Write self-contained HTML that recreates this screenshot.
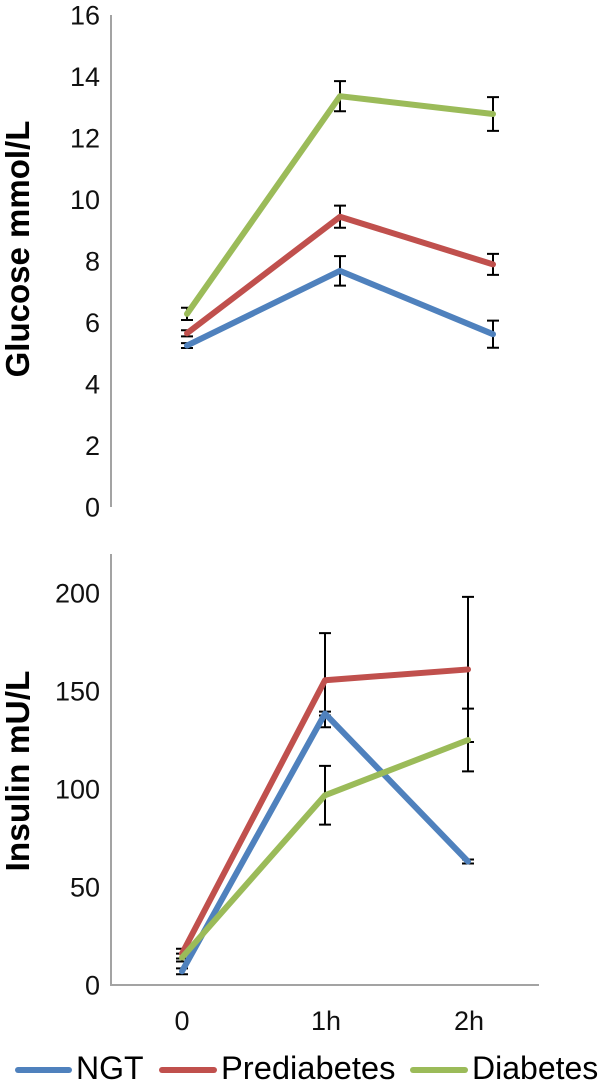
<!DOCTYPE html>
<html>
<head>
<meta charset="utf-8">
<style>
html,body{margin:0;padding:0;background:#fff;}
svg{display:block;font-family:"Liberation Sans",sans-serif;}
</style>
</head>
<body>
<svg id="chart" width="600" height="1087" viewBox="0 0 600 1087" xmlns="http://www.w3.org/2000/svg"></svg>
<script>
const categories = ['0', '1h', '2h'];
const seriesNames = ['NGT', 'Prediabetes', 'Diabetes'];
const glucoseTicks = [0, 2, 4, 6, 8, 10, 12, 14, 16];
const insulinTicks = [0, 50, 100, 150, 200];

const glucoseNGT = [5.25, 7.68, 5.62];
const glucosePrediabetes = [5.65, 9.44, 7.89];
const glucoseDiabetes = [6.28, 13.36, 12.78];
const glucoseNGTErr = [0.08, 0.48, 0.44];
const glucosePrediabetesErr = [0.10, 0.36, 0.34];
const glucoseDiabetesErr = [0.20, 0.49, 0.55];

const insulinNGT = [7, 138.5, 63];
const insulinPrediabetes = [16, 155.5, 161];
const insulinDiabetes = [14, 96.8, 125];
const insulinNGTErr = [1.5, 1, 1];
const insulinPrediabetesErr = [2.5, 24, 37];
const insulinDiabetesErr = [2, 15, 16];

const colors = ['#4f81bd', '#c0504d', '#9bbb59'];
const svg = document.getElementById('chart');
const NS = 'http://www.w3.org/2000/svg';

function make(tag, attrs, name) {
  const el = document.createElementNS(NS, tag);
  for (const k in attrs) el.setAttribute(k, attrs[k]);
  
  
  svg.appendChild(el);
  return el;
}
function label(str, attrs, name) {
  const el = make('text', attrs, name);
  el.textContent = str;
  return el;
}

const yGlucose = v => 507 - v * 30.75;
const xGlucose = i => 187 + i * 153;
const yInsulin = v => 985 - v * 1.96;
const xInsulin = i => 182 + i * 143;

function drawPanel(prefix, xFn, yFn, ticks, values, errs) {
  ticks.forEach(t => {
    label(String(t), {x: 100, y: yFn(t) + 9.5, 'font-size': 27, 'text-anchor': 'end', fill: '#111'}, prefix + '-tick-' + t);
  });
  values.forEach((vals, s) => {
    vals.forEach((v, i) => {
      const x = xFn(i), hi = yFn(v + errs[s][i]), lo = yFn(v - errs[s][i]);
      const d = `M${x} ${hi}V${lo}M${x - 6} ${hi}H${x + 6}M${x - 6} ${lo}H${x + 6}`;
      make('path', {d: d, stroke: '#000', 'stroke-width': 2, fill: 'none'}, prefix + '-error-' + seriesNames[s].toLowerCase() + '-' + i);
    });
  });
  values.forEach((vals, s) => {
    const pts = vals.map((v, i) => xFn(i) + ',' + yFn(v)).join(' ');
    make('polyline', {points: pts, fill: 'none', stroke: colors[s], 'stroke-width': 6, 'stroke-linejoin': 'round', 'stroke-linecap': 'round'}, prefix + '-line-' + seriesNames[s].toLowerCase());
  });
}

make('line', {x1: 111, y1: 15, x2: 111, y2: 507, stroke: '#a3a3a3', 'stroke-width': 2}, 'glucose-y-axis');
make('path', {d: 'M111 554V985H539', fill: 'none', stroke: '#a3a3a3', 'stroke-width': 2}, 'insulin-axes');

drawPanel('glucose', xGlucose, yGlucose, glucoseTicks,
  [glucoseNGT, glucosePrediabetes, glucoseDiabetes],
  [glucoseNGTErr, glucosePrediabetesErr, glucoseDiabetesErr]);
drawPanel('insulin', xInsulin, yInsulin, insulinTicks,
  [insulinNGT, insulinPrediabetes, insulinDiabetes],
  [insulinNGTErr, insulinPrediabetesErr, insulinDiabetesErr]);

categories.forEach((c, i) => {
  label(c, {x: xInsulin(i) + (i ? 1 : 0), y: 1030, 'font-size': 27, 'text-anchor': 'middle', fill: '#111'}, 'x-tick-' + c);
});

label('Glucose mmol/L', {transform: 'translate(29,249) rotate(-90)', 'font-size': 33, 'font-weight': 'bold', 'text-anchor': 'middle', fill: '#000'}, 'glucose-y-axis-title');
label('Insulin mU/L', {transform: 'translate(29,771) rotate(-90)', 'font-size': 33.5, 'font-weight': 'bold', 'text-anchor': 'middle', fill: '#000'}, 'insulin-y-axis-title');

const legendX = [[18, 69, 76], [162, 214, 221], [413, 465, 472]];
seriesNames.forEach((n, s) => {
  make('line', {x1: legendX[s][0], y1: 1070, x2: legendX[s][1], y2: 1070, stroke: colors[s], 'stroke-width': 6, 'stroke-linecap': 'round'}, 'legend-swatch-' + n.toLowerCase());
  label(n, {x: legendX[s][2], y: 1079, 'font-size': s === 1 ? 32.7 : 32, fill: '#000'}, 'legend-entry-' + n.toLowerCase());
});
</script>
</body>
</html>
